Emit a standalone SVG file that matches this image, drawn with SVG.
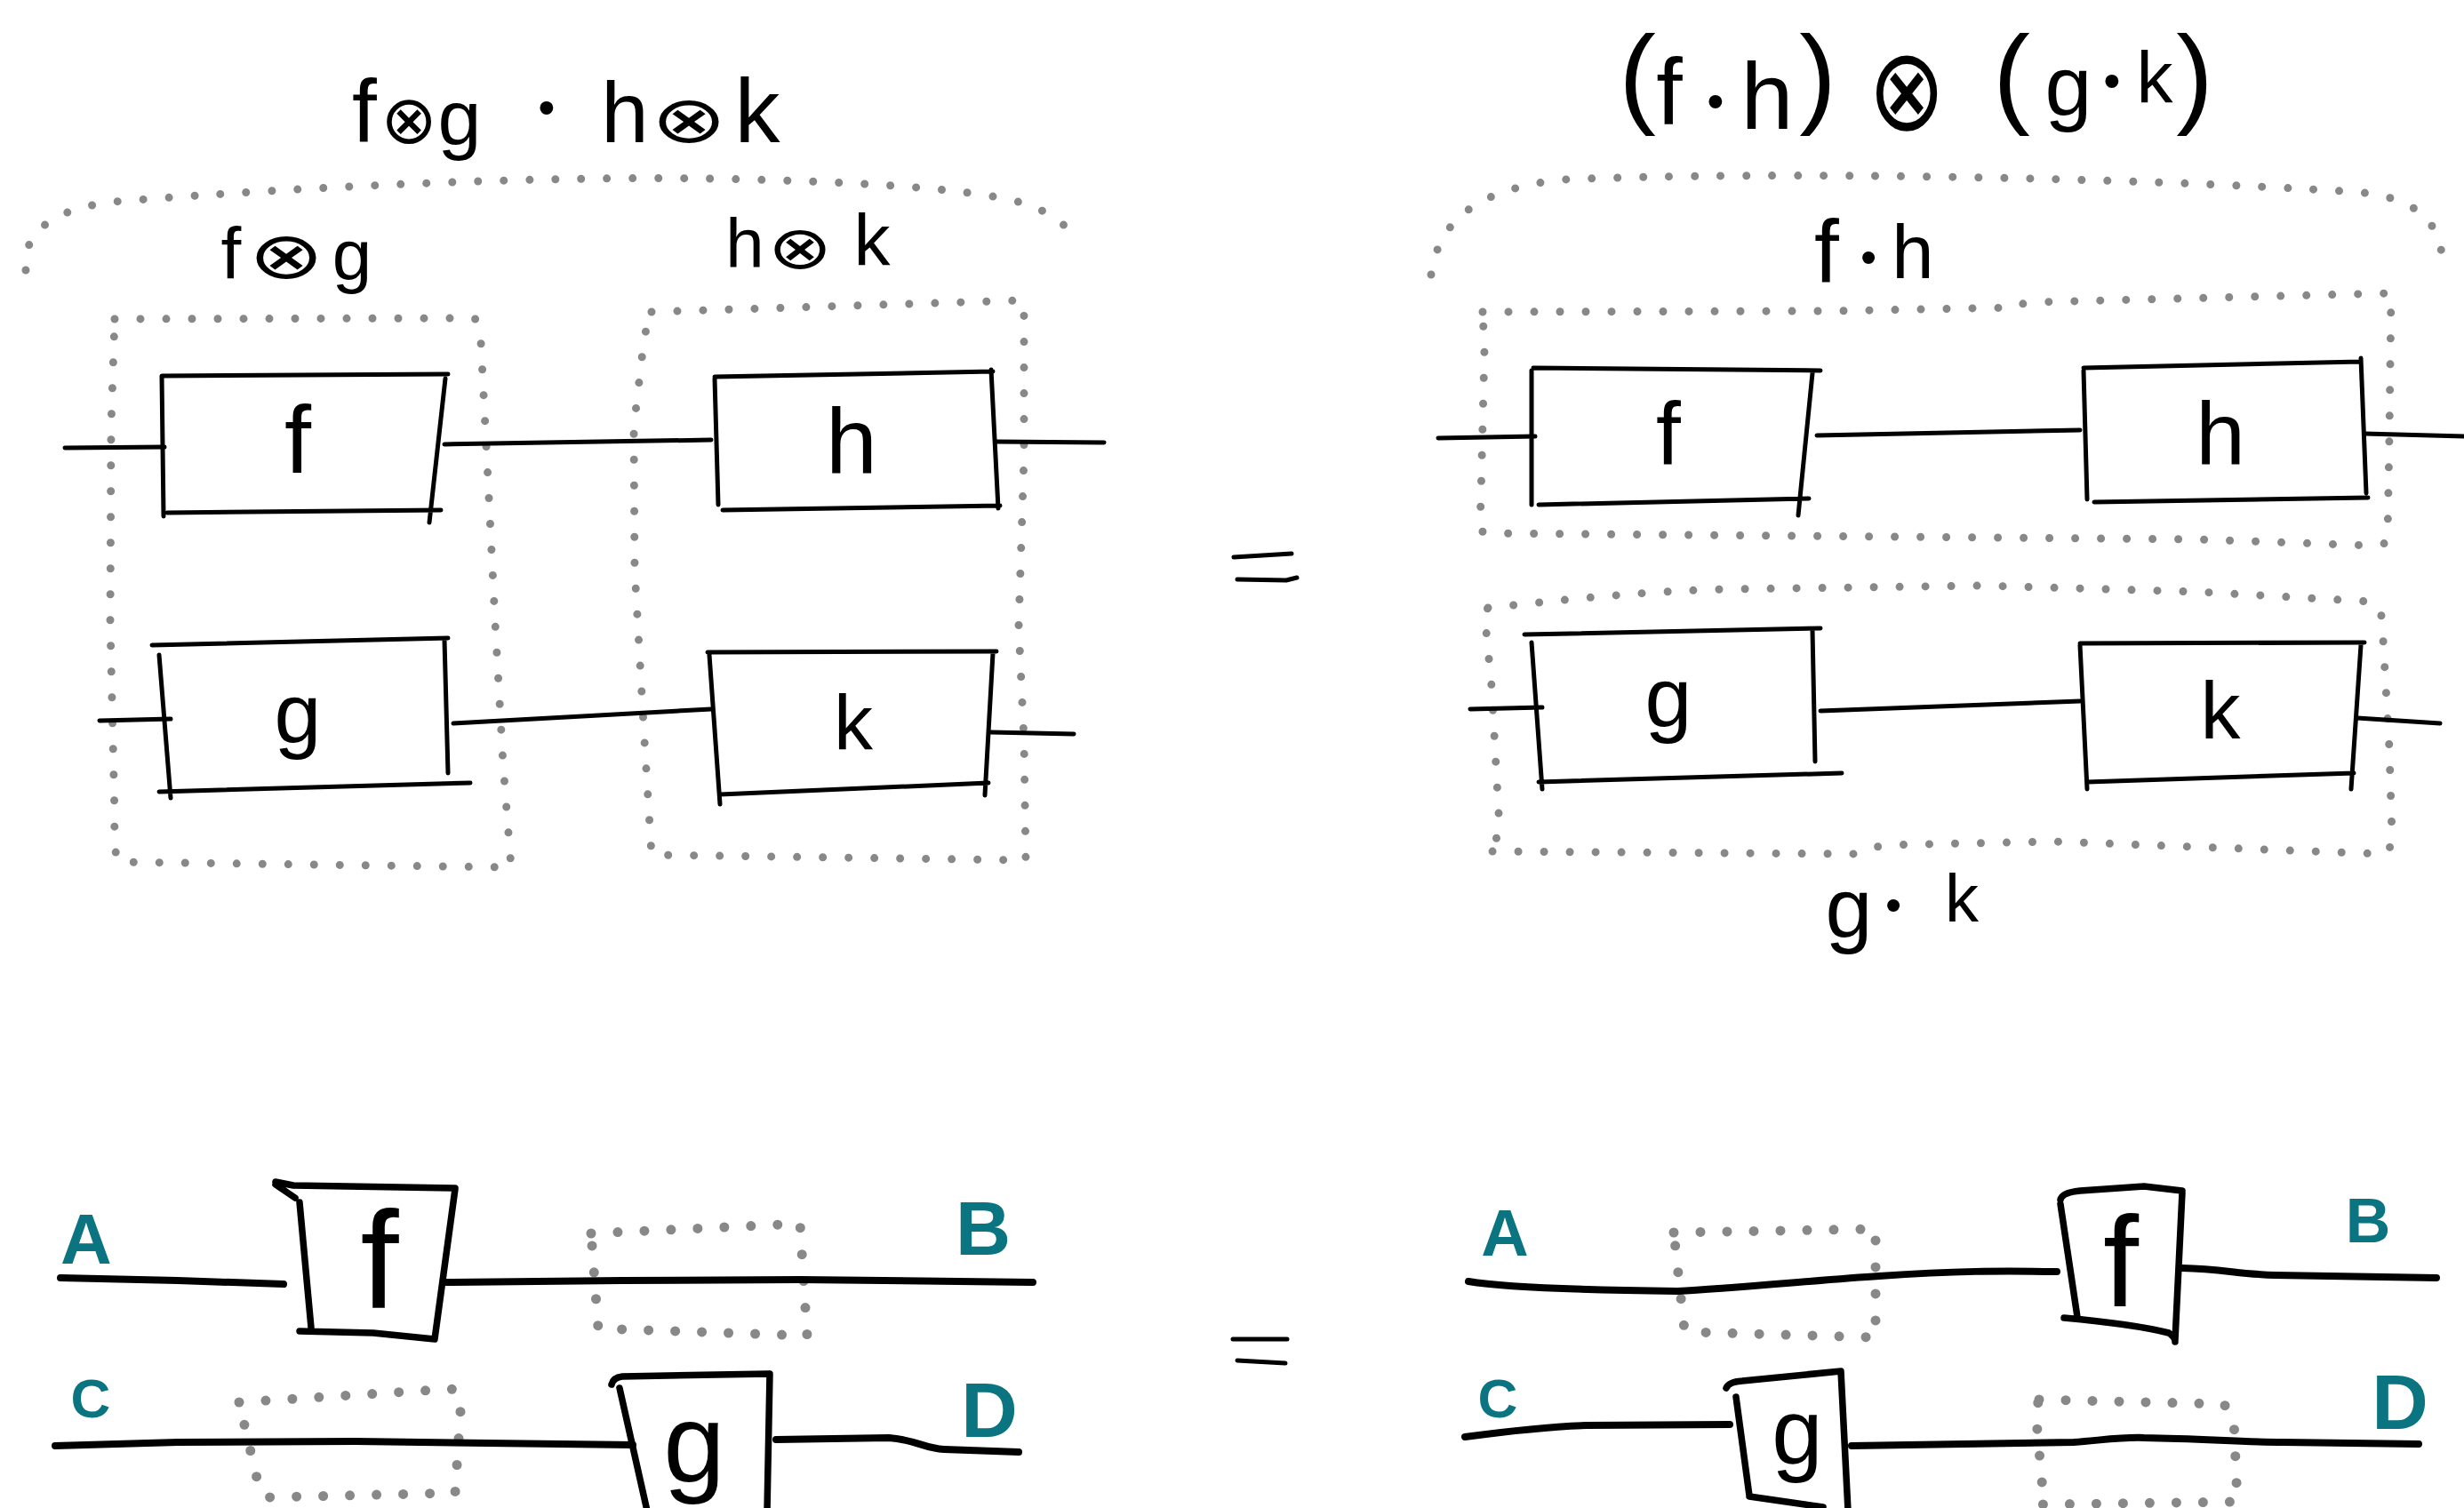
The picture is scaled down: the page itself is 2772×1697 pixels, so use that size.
<svg xmlns="http://www.w3.org/2000/svg" width="2772" height="1697" viewBox="0 0 2772 1697">
<style>
.ink{fill:none;stroke:#000;stroke-width:5;stroke-linecap:round;stroke-linejoin:round}
.bold{stroke-width:7.5}
.dots{fill:none;stroke:#888;stroke-width:9;stroke-linecap:round;stroke-linejoin:round;stroke-dasharray:0 29}
.dotsb{fill:none;stroke:#888;stroke-width:11;stroke-linecap:round;stroke-linejoin:round;stroke-dasharray:0 30}
.t{font-family:"Liberation Sans",Arial,sans-serif;fill:#000;text-anchor:middle}
.ot{font-family:"DejaVu Sans",sans-serif;fill:#000;text-anchor:middle}
.teal{font-family:"Liberation Sans",Arial,sans-serif;fill:#0a7480;text-anchor:middle;font-weight:bold}
.dot{font-family:"Liberation Sans",Arial,sans-serif;fill:#000;text-anchor:middle}
</style>
<rect width="2772" height="1697" fill="#fff"/>

<!-- ===== Top-left: f⊗g · h⊗k ===== -->
<g id="title-left">
<text class="t" font-size="100" x="410" y="160">f</text>
<text class="ot" font-size="76" transform="translate(460,135)" y="26">⊗</text>
<text class="t" font-size="88" x="517" y="163">g</text>
<text class="dot" font-size="55" x="615" y="140">•</text>
<text class="t" font-size="96" x="703" y="160">h</text>
<text class="ot" font-size="73" transform="translate(775,135) scale(1.4,1)" y="25">⊗</text>
<text class="t" font-size="102" x="852" y="160">k</text>
</g>

<g id="group-fg-hk">
<path class="dots" d="M29,304 C24,262 60,232 140,226 C350,210 600,198 800,201 C1000,205 1130,215 1170,236 C1200,250 1205,262 1204,272"/>
</g>

<g id="label-fg">
<text class="t" font-size="82" x="260" y="313">f</text>
<text class="ot" font-size="73" transform="translate(322,288) scale(1.4,1)" y="25">⊗</text>
<text class="t" font-size="80" x="396" y="314">g</text>
</g>
<g id="label-hk">
<text class="t" font-size="78" x="838" y="301">h</text>
<text class="ot" font-size="67" transform="translate(900,279) scale(1.3,1)" y="23">⊗</text>
<text class="t" font-size="82" x="981" y="298">k</text>
</g>

<g id="group-fg">
<path class="dots" d="M129,359 L533,358 Q541,362 541,385 L548,520 L557,700 L566,860 L575,976 L133,970 Q128,960 129,920 L124,700 L125,480 Z"/>
</g>
<g id="group-hk">
<path class="dots" d="M733,351 L1150,338 Q1152,342 1152,360 L1152,513 L1146,705 L1152,833 L1154,968 L733,962 L725,833 L714,641 L713,481 L725,378 Z"/>
</g>

<g id="box-f-tl">
<path class="ink" d="M183,423 L504,421 M182,423 L184,581 M188,577 L496,574 M501,426 L483,588"/>
<text class="t" font-size="108" x="335" y="532">f</text>
</g>
<g id="box-h-tl">
<path class="ink" d="M804,424 L1117,418 M804,426 L808,568 M813,574 L1125,569 M1115,416 L1123,572"/>
<text class="t" font-size="104" x="958" y="532">h</text>
</g>
<g id="box-g-tl">
<path class="ink" d="M171,726 L504,718 M179,737 L192,898 M179,891 L529,881 M500,720 L504,870"/>
<text class="t" font-size="95" x="335" y="835">g</text>
</g>
<g id="box-k-tl">
<path class="ink" d="M796,734 L1121,733 M798,737 L810,905 M810,894 L1112,881 M1117,735 L1108,895"/>
<text class="t" font-size="88" x="960" y="843">k</text>
</g>

<!-- ===== Top-right: (f·h) ⊗ (g·k) ===== -->
<g id="title-right">
<text class="t" font-size="125" x="1842" y="127">(</text>
<text class="t" font-size="106" x="1878" y="140">f</text>
<text class="dot" font-size="55" x="1930" y="133">•</text>
<text class="t" font-size="106" x="1988" y="145">h</text>
<text class="t" font-size="125" x="2045" y="127">)</text>
<text class="ot" font-size="130" transform="translate(2145,101) scale(0.8,1)" y="45">⊗</text>
<text class="t" font-size="125" x="2263" y="127">(</text>
<text class="t" font-size="95" x="2327" y="129">g</text>
<text class="dot" font-size="55" x="2376" y="110">•</text>
<text class="t" font-size="82" x="2424" y="115">k</text>
<text class="t" font-size="125" x="2469" y="127">)</text>
</g>

<g id="group-fh-gk">
<path class="dots" d="M1610,309 C1618,250 1660,212 1760,202 C2000,192 2400,200 2650,216 C2720,222 2748,250 2748,302"/>
</g>

<g id="label-fh">
<text class="t" font-size="100" x="2055" y="318">f</text>
<text class="dot" font-size="52" x="2102" y="307">•</text>
<text class="t" font-size="85" x="2152" y="313">h</text>
</g>
<g id="label-gk">
<text class="t" font-size="95" x="2080" y="1054">g</text>
<text class="dot" font-size="52" x="2130" y="1036">•</text>
<text class="t" font-size="76" x="2207" y="1037">k</text>
</g>

<g id="group-fh">
<path class="dots" d="M1668,351 L2060,350 L2268,346 Q2275,340 2290,340 L2688,330 L2690,332 L2688,491 L2686,605 Q2684,615 2670,614 L2473,607 L1672,600 Q1664,598 1665,590 L1666,561 L1670,393 Z"/>
</g>
<g id="group-gk">
<path class="dots" d="M1674,684 C1760,675 1850,665 1946,663 L2230,659 L2473,666 L2668,677 Q2680,685 2680,702 L2688,842 L2691,940 Q2690,960 2680,961 L2311,947 L2117,951 Q2095,960 2084,961 L1670,958 Q1686,945 1687,933 L1678,772 L1670,690 Z"/>
</g>

<g id="box-f-tr">
<path class="ink" d="M1725,414 L2048,417 M1723,417 L1723,568 M1731,568 L2035,561 M2039,420 L2023,580"/>
<text class="t" font-size="100" x="1877" y="523">f</text>
</g>
<g id="box-h-tr">
<path class="ink" d="M2344,414 L2656,407 M2344,417 L2348,562 M2356,565 L2664,560 M2656,403 L2662,555"/>
<text class="t" font-size="100" x="2498" y="523">h</text>
</g>
<g id="box-g-tr">
<path class="ink" d="M1715,714 L2048,707 M1723,723 L1735,888 M1731,880 L2072,870 M2039,709 L2042,857"/>
<text class="t" font-size="95" x="1877" y="817">g</text>
</g>
<g id="box-k-tr">
<path class="ink" d="M2340,724 L2660,723 M2340,726 L2348,888 M2348,880 L2648,870 M2656,726 L2645,888"/>
<text class="t" font-size="90" x="2498" y="831">k</text>
</g>

<!-- ===== equals signs ===== -->
<g id="equals-top">
<path class="ink" stroke-width="8" d="M1388,627 L1453,623 M1392,652 L1447,653 L1459,650"/>
</g>
<g id="equals-bottom">
<path class="ink" stroke-width="8.5" d="M1387,1507 L1448,1507 M1392,1531 L1446,1534"/>
</g>

<!-- ===== Bottom-left ===== -->
<g id="labels-bl">
<text class="teal" font-size="80" x="97" y="1422">A</text>
<text class="teal" font-size="86" x="1106" y="1412">B</text>
<text class="teal" font-size="62" x="102" y="1595">C</text>
<text class="teal" font-size="88" x="1113" y="1617">D</text>
</g>
<g id="slot-bl-top">
<path class="dotsb" d="M665,1388 L900,1377 L908,1503 L673,1495 Z"/>
</g>
<g id="slot-bl-bottom">
<path class="dotsb" d="M269,1578 L508,1563 L519,1573 L512,1680 L300,1685 L291,1672 Z"/>
</g>
<g id="box-f-bl">
<path class="ink bold" d="M310,1330 L330,1334 L512,1337 M310,1333 L332,1348 M512,1338 L489,1507 M337,1353 L350,1494 M337,1498 L420,1500 L489,1507"/>
<text class="t" font-size="155" x="427" y="1472">f</text>
</g>
<g id="box-g-bl">
<path class="ink bold" d="M688,1558 Q690,1550 700,1549 L865,1546 M866,1546 L863,1700 M697,1562 L728,1700"/>
<text class="t" font-size="125" x="781" y="1667">g</text>
</g>

<!-- ===== Bottom-right ===== -->
<g id="labels-br">
<text class="teal" font-size="74" x="1693" y="1413">A</text>
<text class="teal" font-size="70" x="2664" y="1398">B</text>
<text class="teal" font-size="62" x="1685" y="1595">C</text>
<text class="teal" font-size="88" x="2700" y="1608">D</text>
</g>
<g id="slot-br-top">
<path class="dotsb" d="M1883,1387 L2110,1383 L2110,1505 L1906,1499 L1895,1497 Z"/>
</g>
<g id="slot-br-bottom">
<path class="dotsb" d="M2294,1575 L2502,1580 L2513,1597 L2517,1690 L2294,1693 L2298,1677 L2290,1587 Z"/>
</g>
<g id="box-f-br">
<path class="ink bold" d="M2318,1350 Q2320,1342 2340,1340 L2412,1335 L2455,1340 M2455,1342 L2447,1508 M2318,1355 L2337,1482 M2322,1483 Q2400,1490 2440,1500 Q2447,1505 2447,1510"/>
<text class="t" font-size="144" x="2386" y="1470">f</text>
</g>
<g id="box-g-br">
<path class="ink bold" d="M1942,1562 Q1945,1555 1960,1554 L2071,1543 M2071,1543 L2079,1700 M1953,1572 L1968,1683 M1968,1684 L2051,1696"/>
<text class="t" font-size="103" x="2022" y="1647">g</text>
</g>

<!-- ===== connectors ===== -->
<g id="connectors" class="ink">
<path d="M73,504 L185,503"/>
<path d="M500,500 L800,495"/>
<path d="M1121,497 L1242,498"/>
<path d="M112,811 L192,809"/>
<path d="M510,814 L800,798"/>
<path d="M1115,824 L1208,826"/>
<path d="M1618,493 L1727,491"/>
<path d="M2044,490 L2340,484"/>
<path d="M2660,488 L2772,491"/>
<path d="M1654,798 L1735,796"/>
<path d="M2048,800 L2340,789"/>
<path d="M2652,808 L2745,814"/>
<g stroke-width="8">
<path d="M68,1438 L200,1441 L319,1445"/>
<path d="M500,1443 L700,1441 L900,1440 L1162,1443"/>
<path d="M62,1627 L200,1623 L400,1622 L712,1626"/>
<path d="M873,1620 L1000,1618 C1030,1620 1040,1630 1062,1631 L1146,1634"/>
<path d="M1652,1442 C1700,1450 1800,1452 1887,1453 C1950,1450 2050,1440 2114,1436 C2200,1430 2250,1430 2314,1431"/>
<path d="M2455,1427 C2500,1428 2520,1434 2560,1435 L2741,1438"/>
<path d="M1648,1617 C1700,1610 1750,1605 1785,1604 L1946,1603"/>
<path d="M2083,1627 L2333,1623 C2370,1620 2390,1617 2412,1618 C2480,1619 2520,1623 2568,1623 L2721,1625"/>
</g>
</g>
</svg>
